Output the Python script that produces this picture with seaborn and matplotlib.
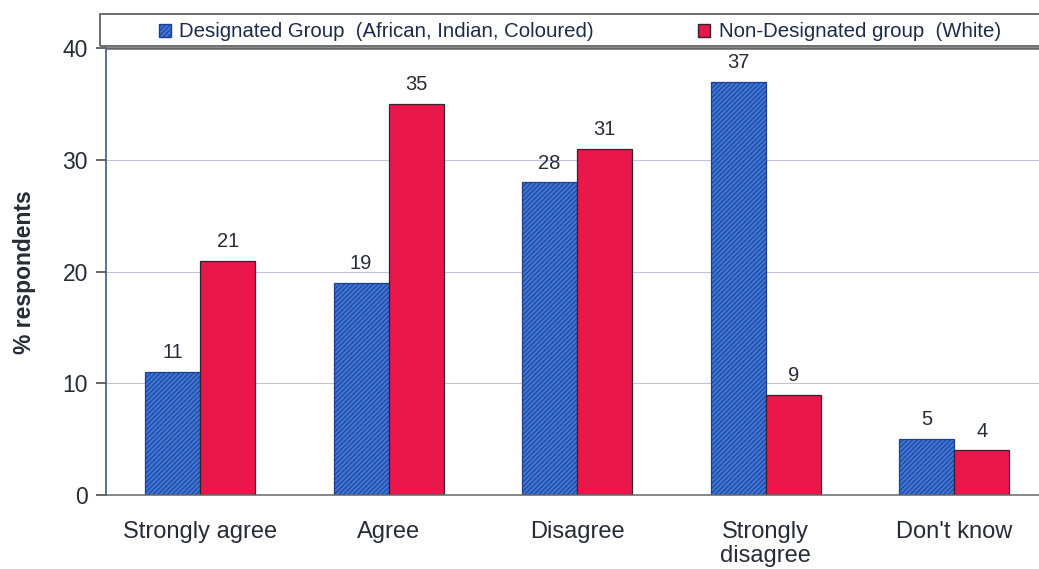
import matplotlib
matplotlib.use("Agg")
import matplotlib.pyplot as plt
import seaborn as sns
import pandas as pd
from matplotlib.patches import Patch, Rectangle

categories = ["Strongly agree", "Agree", "Disagree", "Strongly\ndisagree", "Don't know"]
designated = [11, 19, 28, 37, 5]
non_designated = [21, 35, 31, 9, 4]
series_names = ["Designated Group  (African, Indian, Coloured)",
                "Non-Designated group  (White)"]
y_ticks = [0, 10, 20, 30, 40]

sns.set_theme(style="white")
plt.rcParams["font.family"] = ["Liberation Sans", "DejaVu Sans"]
plt.rcParams["hatch.linewidth"] = 0.7

df = pd.DataFrame({
    "category": categories * 2,
    "value": designated + non_designated,
    "group": [series_names[0]] * len(categories) + [series_names[1]] * len(categories),
})

blue = "#3d74d8"
blue_edge = "#1d3f8c"
red = "#ea174b"
red_edge = "#3a2030"
text_col = "#262b36"

fig = plt.figure(figsize=(10.39, 5.69), dpi=100)
ax = fig.add_axes([0.102, 0.13, 0.907, 0.785])

sns.barplot(data=df, x="category", y="value", hue="group", order=categories,
            hue_order=series_names, palette=[blue, red], width=0.585,
            dodge=True, legend=False, ax=ax, saturation=1)

n = len(categories)
for i, p in enumerate(ax.patches[:2 * n]):
    if i < n:
        p.set_hatch("///////")
        p.set_edgecolor(blue_edge)
    else:
        p.set_edgecolor(red_edge)
    p.set_linewidth(0.9)

for container in ax.containers:
    ax.bar_label(container, fmt="%d", padding=7, fontsize=14.5, color=text_col)

ax.set_ylim(0, 40)
ax.set_xlim(-0.5, n - 0.5)
ax.set_yticks(y_ticks)
ax.set_yticklabels([str(t) for t in y_ticks], fontsize=16.5, color=text_col)
ax.set_xticks(range(n))
ax.set_xticklabels(categories, fontsize=17, color=text_col, linespacing=1.1)
ax.set_xticks([k + 0.5 for k in range(n - 1)], minor=True)
ax.tick_params(axis="x", which="major", length=0, pad=19)
ax.tick_params(axis="x", which="minor", length=5, color="#666666", direction="out")
ax.tick_params(axis="y", length=7, color="#555555", direction="out", left=True, pad=6)
ax.set_xlabel("")
ax.set_ylabel("% respondents", fontsize=16.5, fontweight="bold", color=text_col)
ax.yaxis.set_label_coords(-0.074, 0.5)

for t in [10, 20, 30]:
    ax.axhline(t, color="#c4c2de", linewidth=0.8, zorder=0)

ax.spines["left"].set_color("#3b5b86")
ax.spines["left"].set_linewidth(1.2)
ax.spines["bottom"].set_color("#666666")
ax.spines["bottom"].set_linewidth(1.1)
ax.spines["top"].set_color("#666666")
ax.spines["top"].set_linewidth(1.8)
ax.spines["right"].set_visible(False)

# legend strip above the plot area
fig.patches.append(Rectangle((0.0963, 0.919), 0.95, 0.056, transform=fig.transFigure,
                             fill=False, edgecolor="#555555", linewidth=1.2))
handles = [Patch(facecolor=blue, edgecolor=blue_edge, hatch="///////", label=series_names[0]),
           Patch(facecolor=red, edgecolor=red_edge, label=series_names[1])]
leg = fig.legend(handles=handles, loc="center left", bbox_to_anchor=(0.153, 0.944),
                 ncol=2, frameon=False, fontsize=14.7, handlelength=0.6,
                 handleheight=0.6, handletextpad=0.4, borderpad=0, columnspacing=5.1,
                 borderaxespad=0)
for txt in leg.get_texts():
    txt.set_color("#1c2a4a")

fig.savefig("out.png", dpi=100, facecolor="white")
